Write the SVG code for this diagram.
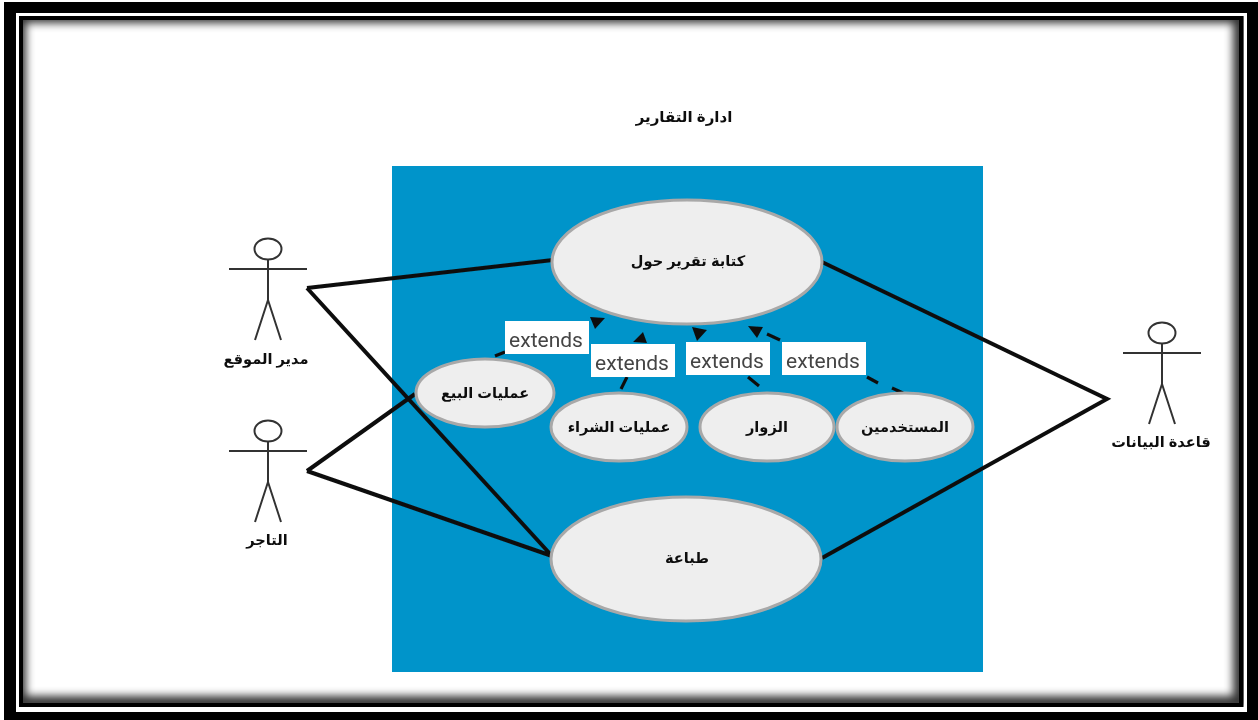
<svg xmlns="http://www.w3.org/2000/svg" width="1258" height="720" viewBox="0 0 1258 720">
<style>
.uc{fill:#eeeeee;stroke:#a8a8a8;stroke-width:3}
.ar{font-family:"Liberation Sans","DejaVu Sans",sans-serif;font-weight:bold;text-anchor:middle;fill:#111;direction:rtl}
.a{font-size:14.6px}
.act{fill:none;stroke:#333;stroke-width:2}
.assoc{fill:none;stroke:#111;stroke-width:4;stroke-linejoin:miter}
.ext{fill:none;stroke:#111;stroke-width:3.2}
.lb{fill:#fff}
.lt{font-family:Roboto,"Liberation Sans",sans-serif;font-size:21px;fill:#444;text-anchor:middle}
</style>
<defs>
<filter id="blur" x="-5%" y="-5%" width="110%" height="110%"><feGaussianBlur stdDeviation="4"/></filter>
<filter id="soft" x="0" y="0" width="100%" height="100%"><feGaussianBlur stdDeviation="0.45"/></filter>
<clipPath id="inner"><rect x="19" y="16" width="1225" height="691"/></clipPath>
<g id="actor"><ellipse cx="0" cy="-20" rx="13.5" ry="10.5"/><path d="M-39 0H39M0 -10V31M0 31L-13 71M0 31L13 71"/></g>
</defs>
<rect width="1258" height="720" fill="#fff"/>
<g id="frame">
<rect x="4" y="2" width="1254" height="718" fill="#000"/>
<rect x="16" y="13" width="1231" height="699" fill="#fff"/>
<g clip-path="url(#inner)"><rect x="19" y="16" width="1221" height="687" fill="#fff"/><rect x="19" y="16" width="1221" height="687" fill="none" stroke="#000" stroke-opacity="0.8" stroke-width="14" filter="url(#blur)"/></g>
<rect x="21" y="18" width="1220" height="687" fill="none" stroke="#000" stroke-width="4"/>
</g>
<g id="content" filter="url(#soft)">
<text class="ar" x="684" y="122" font-size="15">ادارة التقارير</text>
<rect id="system" x="392" y="166" width="591" height="506" fill="#0094ca"/>
<g id="connectors">
<path class="assoc" d="M307 288L553 260M307 288L552 556M307 471L415 394M307 471L552 556M822 262L1107 399L822 558"/>
<path class="ext" d="M495 356L505 352M621 389L627 377M748 377L759 386M767 334L780 340M867 377L878 383M892 388L903 393"/>
<path fill="#111" d="M590 317L605 318L595 329ZM643 332L647 343L633 342ZM692 327L707 330L697 341ZM748 326L763 327L757 338Z"/>
</g>
<g id="uc-report"><ellipse class="uc" cx="687" cy="262" rx="135" ry="62"/><text class="ar a" x="688" y="266">كتابة تقرير حول</text></g>
<g id="uc-print"><ellipse class="uc" cx="686" cy="559" rx="135" ry="62"/><text class="ar a" x="687" y="563">طباعة</text></g>
<g id="uc-sales"><ellipse class="uc" cx="485" cy="393" rx="69" ry="34"/><text class="ar a" x="485" y="398">عمليات البيع</text></g>
<g id="uc-purchase"><ellipse class="uc" cx="619" cy="427" rx="68" ry="34"/><text class="ar a" x="619" y="432">عمليات الشراء</text></g>
<g id="uc-visitors"><ellipse class="uc" cx="767" cy="427" rx="67" ry="34"/><text class="ar a" x="767" y="432">الزوار</text></g>
<g id="uc-users"><ellipse class="uc" cx="905" cy="427" rx="68" ry="34"/><text class="ar a" x="905" y="432">المستخدمين</text></g>
<g id="labels">
<g><rect class="lb" x="505" y="321" width="84" height="33"/><text class="lt" x="546" y="347">extends</text></g>
<g><rect class="lb" x="591" y="344" width="84" height="33"/><text class="lt" x="632" y="370">extends</text></g>
<g><rect class="lb" x="686" y="342" width="84" height="33"/><text class="lt" x="727" y="368">extends</text></g>
<g><rect class="lb" x="782" y="342" width="84" height="33"/><text class="lt" x="823" y="368">extends</text></g>
</g>
<g id="actor-manager"><use href="#actor" x="268" y="269" class="act"/><text class="ar a" x="266" y="364">مدير الموقع</text></g>
<g id="actor-merchant"><use href="#actor" x="268" y="451" class="act"/><text class="ar a" x="267" y="545">التاجر</text></g>
<g id="actor-db"><use href="#actor" x="1162" y="353" class="act"/><text class="ar a" x="1161" y="447">قاعدة البيانات</text></g>
</g>
</svg>
